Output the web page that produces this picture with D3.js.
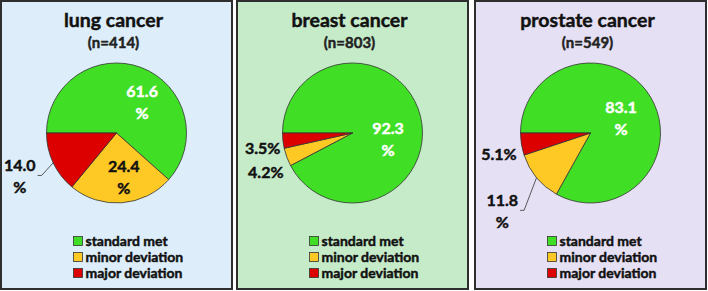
<!DOCTYPE html>
<html>
<head>
<style>
  body {
    margin: 0px;
    background-color: white;
  }
  svg text {
    font-family: Lato, "Open Sans", sans-serif;
    font-weight: bold;
    stroke-width: 0.45px;
    paint-order: stroke;
  }
</style>
<script src="https://d3js.org/d3.v7.min.js"></script>
</head>
<body>
  <svg></svg>
</body>
<script>
// data
const cancers = ["lung cancer", "breast cancer", "prostate cancer"];
const sampleSizes = [414, 803, 549];
const categories = ["standard met", "minor deviation", "major deviation"];
const standardMet = [61.6, 92.3, 83.1];
const minorDeviation = [24.4, 4.2, 11.8];
const majorDeviation = [14.0, 3.5, 5.1];

// layout
const width = 708, height = 291;
const panelX = [1, 237, 475], panelW = 231, panelTop = 1, panelBottom = 289;
const panelFill = ["#ddeefa", "#c6ebc9", "#e6e0f4"];
const sliceColor = d3.scaleOrdinal().domain(categories).range(["#40df25", "#ffc925", "#dd0000"]);
const radius = 70, pieY = 133;

// where each slice label sits: radius from centre, angle nudge (deg), kind
const labelPlace = [
  [{r: 40, shift: 19, kind: "in"}, {r: 45, shift: -5, kind: "in"}, {r: 106, shift: 1, kind: "lead"}],
  [{r: 36, shift: 23, kind: "in"}, {r: 95, shift: -4, kind: "out"}, {r: 91, shift: -3, kind: "out"}],
  [{r: 34, shift: 4, kind: "in"}, {r: 118, shift: -2, kind: "lead"}, {r: 94, shift: -4, kind: "out"}]
];

const svg = d3.select("svg")
    .attr("width", width)
    .attr("height", height);

const pie = d3.pie()
    .sort(null)
    .value(function(d) {return d.value})
    .startAngle(-Math.PI / 2)
    .endAngle(Math.PI * 1.5);

const arc = d3.arc().innerRadius(0).outerRadius(radius);

cancers.forEach(function(name, p) {
  const g = svg.append("g").attr("transform", "translate(" + panelX[p] + ",0)");
  const cx = panelW / 2;

  g.append("rect")
      .attr("x", 0)
      .attr("y", panelTop)
      .attr("width", panelW)
      .attr("height", panelBottom - panelTop)
      .style("fill", panelFill[p])
      .style("stroke", "#2e2e2e")
      .style("stroke-width", 2);

  g.append("text")
      .attr("x", cx - 3)
      .attr("y", 27)
      .attr("text-anchor", "middle")
      .style("font-size", "19.5px")
      .style("fill", "#111")
      .style("stroke", "#111")
      .text(name);

  g.append("text")
      .attr("x", cx - 3)
      .attr("y", 48)
      .attr("text-anchor", "middle")
      .style("font-size", "15px")
      .style("fill", "#222")
      .style("stroke", "#222")
      .text("(n=" + sampleSizes[p] + ")");

  const values = [standardMet[p], minorDeviation[p], majorDeviation[p]];
  const slices = pie(categories.map(function(c, i) {return {key: c, value: values[i]}}));

  const pg = g.append("g").attr("transform", "translate(" + cx + "," + pieY + ")");

  pg.selectAll("path")
      .data(slices)
    .enter().append("path")
      .attr("d", arc)
      .style("fill", function(d) {return sliceColor(d.data.key)})
      .style("stroke", "#333")
      .style("stroke-width", 0.8);

  slices.forEach(function(d, i) {
    const place = labelPlace[p][i];
    const mid = (d.startAngle + d.endAngle) / 2;
    const a = mid + place.shift * Math.PI / 180;
    const lx = Math.sin(a) * place.r, ly = -Math.cos(a) * place.r;
    const txt = d.data.value.toFixed(1);
    const color = i === 0 ? "white" : "#111";
    const lab = pg.append("text")
        .attr("text-anchor", "middle")
        .style("font-size", "16px")
        .style("fill", color)
        .style("stroke", color);

    if (place.kind === "out") {
      lab.attr("x", lx).attr("y", ly + 6).text(txt + "%");
    } else {
      lab.append("tspan").attr("x", lx).attr("y", ly - 5).text(txt);
      lab.append("tspan").attr("x", lx).attr("y", ly + 17).text("%");
    }

    if (place.kind === "lead") {
      const w = lab.select("tspan").node().getComputedTextLength();
      const edge = [Math.sin(mid) * radius, -Math.cos(mid) * radius];
      const x0 = lx + w / 2 + 2, y0 = ly - 1;
      pg.append("path")
          .attr("d", d3.line()([[x0, y0], [x0 + 4, y0], edge]))
          .style("fill", "none")
          .style("stroke", "#333")
          .style("stroke-width", 0.8);
    }
  });

  const legend = g.selectAll(".legend")
      .data(categories)
    .enter().append("g")
      .attr("transform", function(d, i) {return "translate(" + (cx - 43) + "," + (241 + i * 16) + ")"});

  legend.append("rect")
      .attr("x", 0)
      .attr("y", -4.5)
      .attr("width", 9)
      .attr("height", 9)
      .style("fill", sliceColor)
      .style("stroke", "#333")
      .style("stroke-width", 0.8);

  legend.append("text")
      .attr("x", 12)
      .attr("y", 5)
      .style("font-size", "14px")
      .style("fill", "#111")
      .style("stroke", "#111")
      .text(function(d) {return d});
});
</script>
</html>
